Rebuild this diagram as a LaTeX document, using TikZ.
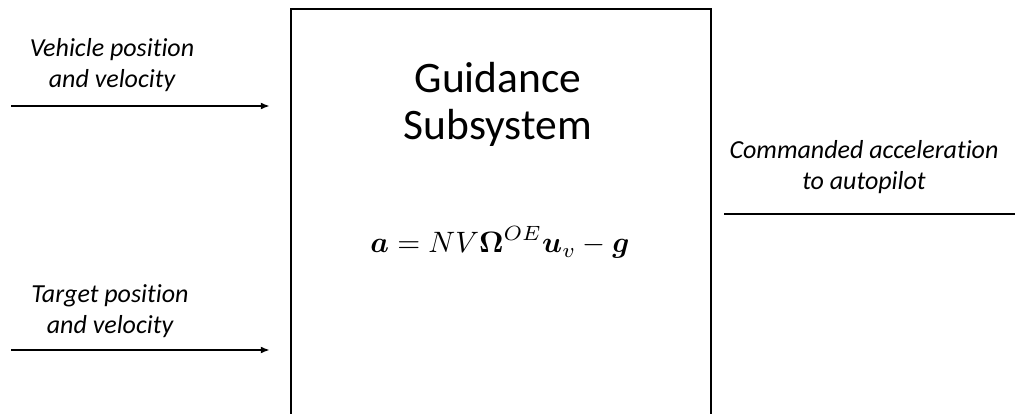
\documentclass[tikz,border=0pt]{standalone}
\usepackage{graphicx}
\usepackage{fontspec}
\usepackage{amsmath}
\setsansfont{Carlito}[Ligatures=NoCommon]
\usetikzlibrary{positioning,arrows.meta}

\begin{document}
\begin{tikzpicture}[x=1pt,y=-1pt,
    sysbox/.style={draw, line width=2.4pt, minimum width=420pt, minimum height=440pt, inner sep=0pt},
    sigtext/.style={font=\fontsize{26}{31}\selectfont\sffamily\itshape, align=center, inner sep=0pt},
    headtext/.style={font=\fontsize{43.5}{47}\selectfont\sffamily, align=center, inner sep=0pt},
    signal/.style={line width=1.8pt, -{Latex[length=9pt,width=7pt]}},
    outsig/.style={line width=1.8pt}]
      \clip (0,0) rectangle (1015,414);

      % guidance block (runs off the bottom)
      \node[sysbox, anchor=north] (guid) at (501,8) {};
      \node[headtext, anchor=base] (head) at (498,140) {Guidance\\Subsystem};
      \node[anchor=base, inner sep=0pt] (law) at (500,253)
        {\scalebox{2.95}{$\boldsymbol{a} = NV\boldsymbol{\Omega}^{OE}\boldsymbol{u}_v - \boldsymbol{g}$}};

      % inputs
      \node[sigtext, anchor=base] (vehlbl) at (112,88) {Vehicle position\\and velocity};
      \node[sigtext, anchor=base] (tgtlbl) at (110,333) {Target position\\and velocity};
      \coordinate (vehin) at (11,106);
      \coordinate (tgtin) at (11,350);
      \coordinate (vehend) at ([xshift=-20pt]guid.west |- vehin);
      \coordinate (tgtend) at ([xshift=-20pt]guid.west |- tgtin);
      \draw[signal] (vehin) -- (vehend);
      \draw[signal] (tgtin) -- (tgtend);

      % output
      \node[sigtext, anchor=base] (cmdlbl) at (864,190) {Commanded acceleration\\to autopilot};
      \coordinate (cmdstart) at ([xshift=12pt]guid.east |- 0,214);
      \coordinate (cmdout) at (1016,214);
      \draw[outsig] (cmdstart) -- (cmdout);
\end{tikzpicture}
\end{document}
